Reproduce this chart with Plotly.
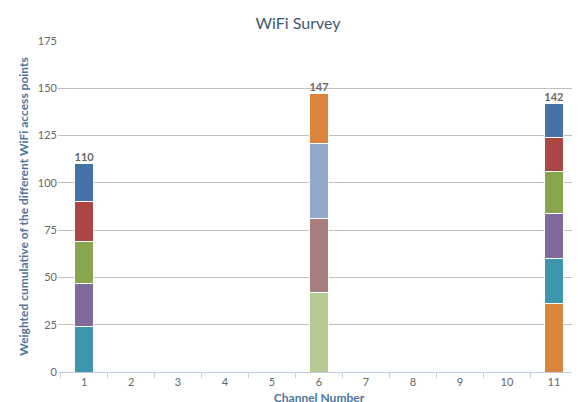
import plotly.graph_objects as go

channels = [str(c) for c in range(1, 12)]

# stacked segments per used channel (bottom to top)
ch1_values = [24, 23, 22, 21, 20]
ch1_colors = ['#3D96AE', '#80699B', '#89A54E', '#AA4643', '#4572A7']
ch6_values = [42, 39, 40, 26]
ch6_colors = ['#B5CA92', '#A47D7C', '#92A8CD', '#DB843D']
ch11_values = [36, 24, 24, 22, 18, 18]
ch11_colors = ['#DB843D', '#3D96AE', '#80699B', '#89A54E', '#AA4643', '#4572A7']

stacks = [('1', ch1_values, ch1_colors), ('6', ch6_values, ch6_colors),
          ('11', ch11_values, ch11_colors)]

fig = go.Figure()
for ch, vals, cols in stacks:
    for v, c in zip(vals, cols):
        fig.add_bar(x=[ch], y=[v], marker=dict(color=c, line=dict(color='white', width=1)),
                    width=0.42, showlegend=False, hoverinfo='y')

totals_x = [s[0] for s in stacks]
totals_y = [sum(s[1]) for s in stacks]
fig.add_scatter(x=totals_x, y=totals_y, mode='text', text=['<b>%d</b>' % t for t in totals_y],
                textposition='top center', showlegend=False,
                textfont=dict(size=11, color='#666666', family='Lato'))

fig.update_layout(
    barmode='stack', width=580, height=402,
    margin=dict(l=50, r=8, t=33, b=38, autoexpand=False),
    plot_bgcolor='white', paper_bgcolor='white',
    title=dict(text='WiFi Survey', x=0.5, y=0.975, font=dict(size=16, color='#3E576F', family='Lato')),
    font=dict(family='Lato', size=11, color='#666666'),
)
fig.update_xaxes(type='category', categoryorder='array', categoryarray=channels,
                 title=dict(text='<b>Channel Number</b>', font=dict(size=12, color='#4d759e'), standoff=6),
                 showline=True, linecolor='#C0D0E0', ticks='outside', tickcolor='#C0D0E0',
                 ticklen=5, showgrid=False, tickson='boundaries', automargin=False)
fig.update_yaxes(range=[0, 175], dtick=25, showgrid=True, gridcolor='#C0C0C0',
                 title=dict(text='<b>Weighted cumulative of the different WiFi access points</b>',
                            font=dict(size=12, color='#4d759e'), standoff=6),
                 zeroline=False, automargin=False)
fig.write_html('out.html')
